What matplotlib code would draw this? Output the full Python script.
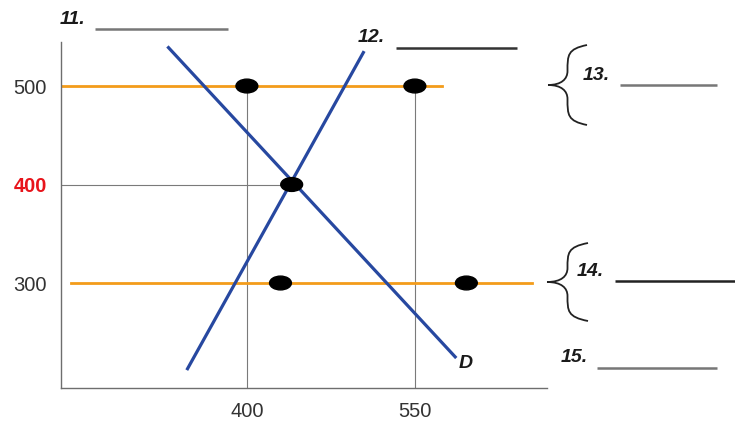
import matplotlib.pyplot as plt
from matplotlib.patches import Ellipse, PathPatch
from matplotlib.path import Path

# price levels and quantities
price_ticks = [300, 400, 500]
price_labels = ["300", "400", "500"]
qty_ticks = [400, 550]
qty_labels = ["400", "550"]

demand_q = [330, 586]
demand_p = [539, 225]
supply_q = [347, 504]
supply_p = [213, 534]

ceiling_q = [234, 574]      # upper horizontal price line (500)
ceiling_p = [500, 500]
floor_q = [243, 655]        # lower horizontal price line (300)
floor_p = [300, 300]

equil_q = 440
equil_p = 400

dot_q = [400, 550, 430, 596, 440]
dot_p = [500, 500, 300, 300, 400]

W, H = 735, 421
fig = plt.figure(figsize=(W / 100, H / 100), dpi=100)
plt.rcParams["font.family"] = ["Liberation Sans", "DejaVu Sans"]

ax_l, ax_r, ax_t, ax_b = 61, 547, 42, 388
ax = fig.add_axes([ax_l / W, (H - ax_b) / H, (ax_r - ax_l) / W, (ax_b - ax_t) / H])
ax.set_xlim(234, 668)
ax.set_ylim(193.4, 544.7)

for side in ["top", "right"]:
    ax.spines[side].set_visible(False)
for side in ["left", "bottom"]:
    ax.spines[side].set_color("#6e6e6e")
    ax.spines[side].set_linewidth(1.0)

ax.set_xticks(qty_ticks, qty_labels)
ax.set_yticks(price_ticks, price_labels)
ax.tick_params(axis="both", length=0, labelsize=14.5, colors="#333333")
ax.tick_params(axis="y", pad=10)
ax.tick_params(axis="x", pad=10)
for lbl in ax.get_yticklabels():
    if lbl.get_text() == "400":
        lbl.set_color("#e8141b")
        lbl.set_fontweight("bold")

guide = dict(color="#7a7a7a", linewidth=0.8)
ax.plot([qty_ticks[0], qty_ticks[0]], [193.4, ceiling_p[0]], **guide)
ax.plot([qty_ticks[1], qty_ticks[1]], [193.4, ceiling_p[0]], **guide)
ax.plot([234, equil_q], [equil_p, equil_p], **guide)

orange = "#f39c1a"
ax.plot(ceiling_q, ceiling_p, color=orange, linewidth=2.0)
ax.plot(floor_q, floor_p, color=orange, linewidth=2.0)

blue = "#2748a0"
ax.plot(demand_q, demand_p, color=blue, linewidth=2.3)
ax.plot(supply_q, supply_p, color=blue, linewidth=2.3)

for q, p in zip(dot_q, dot_p):
    ax.add_patch(Ellipse((q, p), 19.5, 14, color="black", zorder=5))

# overlay in pixel coordinates for the blank answer labels and braces
ov = fig.add_axes([0, 0, 1, 1])
ov.set_xlim(0, W)
ov.set_ylim(H, 0)
ov.axis("off")

lab = dict(fontsize=14, fontweight="bold", fontstyle="italic", color="#1a1a1a",
           va="center", ha="left")
blanks = [
    ("11.", 60, 20, 95, 228, 29, "#777777"),
    ("12.", 358, 38, 396, 517, 48, "#333333"),
    ("13.", 583, 75, 620, 717, 85, "#777777"),
    ("14.", 577, 272, 615, 735, 281, "#222222"),
    ("15.", 561, 357, 597, 717, 368, "#777777"),
]
for txt, tx, ty, x0, x1, ly, col in blanks:
    ov.text(tx, ty, txt, **lab)
    ov.plot([x0, x1], [ly, ly], color=col, linewidth=1.8, solid_capstyle="butt")

ov.text(459, 364, "D", **lab)


def brace(x_tip, y_mid, x_end, half):
    xv = x_tip + (x_end - x_tip) * 0.5
    verts = [
        (x_end, y_mid - half),
        (xv, y_mid - half + 4), (xv, y_mid - half + 10), (xv, y_mid - 14),
        (xv, y_mid - 6), (xv - 6, y_mid), (x_tip, y_mid),
        (xv - 6, y_mid), (xv, y_mid + 6), (xv, y_mid + 14),
        (xv, y_mid + half - 10), (xv, y_mid + half - 4), (x_end, y_mid + half),
    ]
    codes = [Path.MOVETO] + [Path.CURVE4] * 12
    ov.add_patch(PathPatch(Path(verts, codes), fill=False, edgecolor="#222222", linewidth=1.3))


brace(548, 85, 587, 40)
brace(547, 282, 588, 39)

fig.savefig("out.png", dpi=100)
